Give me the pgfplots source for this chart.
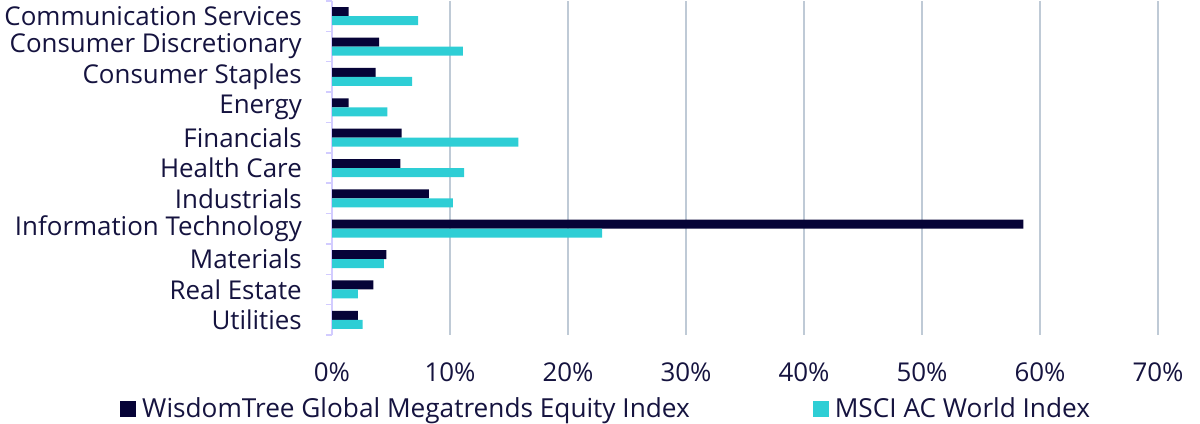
\documentclass[border=0pt]{standalone}
\usepackage{fontspec}
\setmainfont{Open Sans}
\usepackage{pgfplots}
\pgfplotsset{compat=1.18}
\definecolor{wtdark}{HTML}{060337}
\definecolor{wtcyan}{HTML}{2ECED5}
\definecolor{wtgrid}{HTML}{BFCAD6}
\definecolor{wtaxis}{HTML}{D2CCFF}
\definecolor{wttext}{HTML}{15133F}
\begin{document}
\begin{tikzpicture}
\useasboundingbox (0,0) rectangle (1200bp,424bp);
\begin{axis}[
  at={(332bp,89bp)}, anchor=south west,
  scale only axis, width=826bp, height=334bp,
  xbar, bar width=9bp,
  xmin=0, xmax=70,
  ymin=-0.5, ymax=10.5, y dir=reverse,
  xtick={0,10,...,70},
  xticklabel={\pgfmathprintnumber{\tick}\%},
  xticklabel style={anchor=base, yshift=-46bp, inner sep=0pt},
  ytick={0,...,10},
  yticklabels={Communication Services,Consumer Discretionary,Consumer Staples,Energy,Financials,Health Care,Industrials,Information Technology,Materials,Real Estate,Utilities},
  yticklabel style={anchor=east, inner sep=0pt, xshift=-30bp},
  extra y ticks={-0.5,0.5,...,10.5},
  extra y tick labels={},
  extra y tick style={major tick length=6bp, tick align=outside, tick style={draw=wtaxis, line width=1.5bp}, grid=none},
  major tick length=0pt,
  xmajorgrids, major grid style={draw=wtgrid, line width=2bp},
  axis x line*=bottom, axis y line*=left,
  x axis line style={draw=none},
  y axis line style={draw=wtaxis, line width=2bp, -},
  every tick label/.append style={font=\fontsize{26}{28}\selectfont, text=wttext},
  /pgf/number format/assume math mode=true,
  legend style={at={(-0.2566,-0.2207)}, anchor=west, draw=none, fill=none,
    legend columns=2, font=\fontsize{26.3}{28}\selectfont, text=wttext,
    /tikz/every even column/.append style={column sep=117bp},
    inner sep=0pt, row sep=0pt, nodes={inner xsep=6bp}},
  legend cell align=left,
]
\addplot[fill=wtdark, draw=none, bar shift=4.5bp,
  legend image code/.code={\fill[wtdark] (0bp,-8bp) rectangle (16bp,8bp);}]
  coordinates {(1.4,0) (4.0,1) (3.7,2) (1.4,3) (5.9,4) (5.8,5) (8.2,6) (58.6,7) (4.6,8) (3.5,9) (2.2,10)};
\addplot[fill=wtcyan, draw=none, bar shift=-4.5bp,
  legend image code/.code={\fill[wtcyan] (0bp,-8bp) rectangle (16bp,8bp);}]
  coordinates {(7.3,0) (11.1,1) (6.8,2) (4.7,3) (15.8,4) (11.2,5) (10.25,6) (22.9,7) (4.4,8) (2.2,9) (2.6,10)};
\legend{WisdomTree Global Megatrends Equity Index, MSCI AC World Index}
\end{axis}
\end{tikzpicture}
\end{document}
